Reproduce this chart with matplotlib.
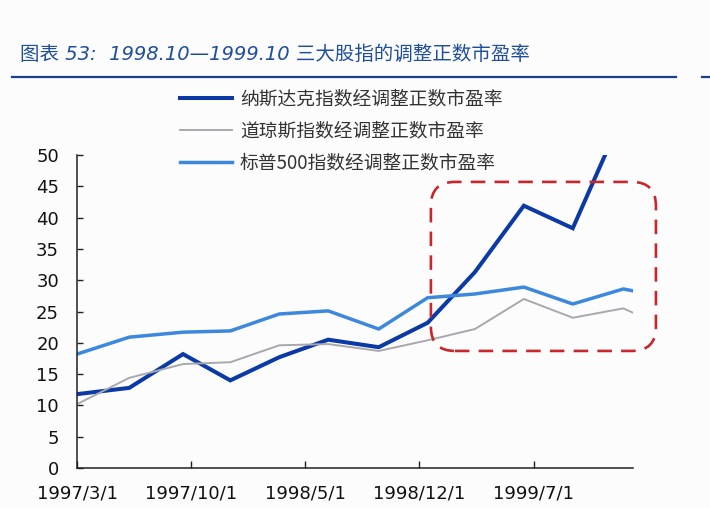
import matplotlib
matplotlib.use("Agg")
import matplotlib.pyplot as plt
from matplotlib.lines import Line2D
from matplotlib.patches import FancyBboxPatch

plt.rcParams['font.family'] = ['DejaVu Sans', 'Noto Sans CJK SC']

# months after 1997/3/1
months = [0, 3.2, 6.5, 9.4, 12.4, 15.4, 18.5, 21.5, 24.4, 27.4, 30.4, 33.5, 34.1]
nasdaq = [11.8, 12.8, 18.2, 14.0, 17.7, 20.5, 19.3, 23.2, 31.3, 41.9, 38.3, 56.6, 57.5]
dow = [10.2, 14.4, 16.6, 16.9, 19.6, 19.8, 18.7, 20.4, 22.2, 27.0, 24.0, 25.5, 24.8]
sp500 = [18.2, 20.9, 21.7, 21.9, 24.6, 25.1, 22.2, 27.2, 27.8, 28.9, 26.2, 28.6, 28.3]

tick_months = [0, 7, 14, 21, 28]
tick_labels = ['1997/3/1', '1997/10/1', '1998/5/1', '1998/12/1', '1999/7/1']

labels = ['纳斯达克指数经调整正数市盈率',
          '道琼斯指数经调整正数市盈率',
          '标普500指数经调整正数市盈率']
title = '图表 53:  1998.10—1999.10 三大股指的调整正数市盈率'

# highlight box (months, values)
box_x = (21.7, 35.5)
box_y = (18.7, 45.7)

bg = '#fcfcfd'
fig = plt.figure(figsize=(7.1, 5.08), dpi=100, facecolor=bg)
ax = fig.add_axes([0.1085, 0.0787, 0.7832, 0.6162])
ax.set_facecolor(bg)

l1, = ax.plot(months, nasdaq, color='#0b3aa6', lw=2.9, solid_joinstyle='miter')
l2, = ax.plot(months, dow, color='#a8a8ae', lw=1.4)
l3, = ax.plot(months, sp500, color='#3b88dc', lw=2.5)

ax.set_xlim(0, 34.1)
ax.set_ylim(0, 50)
ax.set_yticks(range(0, 51, 5))
ax.set_xticks(tick_months)
ax.set_xticklabels(tick_labels)

for s in ['top', 'right']:
    ax.spines[s].set_visible(False)
for s in ['left', 'bottom']:
    ax.spines[s].set_color('#222222')
    ax.spines[s].set_linewidth(1.1)

ax.tick_params(axis='y', direction='in', length=4, width=1, color='#222222',
               labelsize=13, pad=13, labelcolor='#111111')
ax.tick_params(axis='x', direction='in', length=5, width=1, color='#222222',
               labelsize=13, pad=12, labelcolor='#111111')

# red dashed rounded box, drawn in pixel space so the corners stay round
fig.canvas.draw()
(x0, y0) = ax.transData.transform((box_x[0], box_y[0]))
(x1, y1) = ax.transData.transform((box_x[1], box_y[1]))
box = FancyBboxPatch((x0, y0), x1 - x0, y1 - y0,
                     boxstyle='round,pad=0,rounding_size=24',
                     transform=None, fill=False, edgecolor='#c8262b',
                     lw=1.9, ls=(0, (5.5, 3.5)), clip_on=False)
fig.patches.append(box)

# title and rule
fig.text(0.028, 0.893, title, fontsize=14, style='italic', color='#1f4e9e',
         va='center', ha='left')
fig.add_artist(Line2D([0.017, 0.952], [0.848, 0.848], color='#1a3f8c', lw=1.6))
fig.add_artist(Line2D([0.989, 1.0], [0.848, 0.848], color='#1a3f8c', lw=1.6))

fig.legend([l1, l2, l3], labels, loc='upper left', bbox_to_anchor=(0.2535, 0.826),
           frameon=False, handlelength=2.77, handletextpad=0.43,
           labelspacing=0.6, borderpad=0, borderaxespad=0, labelcolor='#333333',
           prop={'family': ['Noto Sans CJK SC', 'DejaVu Sans'], 'size': 13.5})

fig.savefig('out.png', dpi=100, facecolor=bg)
